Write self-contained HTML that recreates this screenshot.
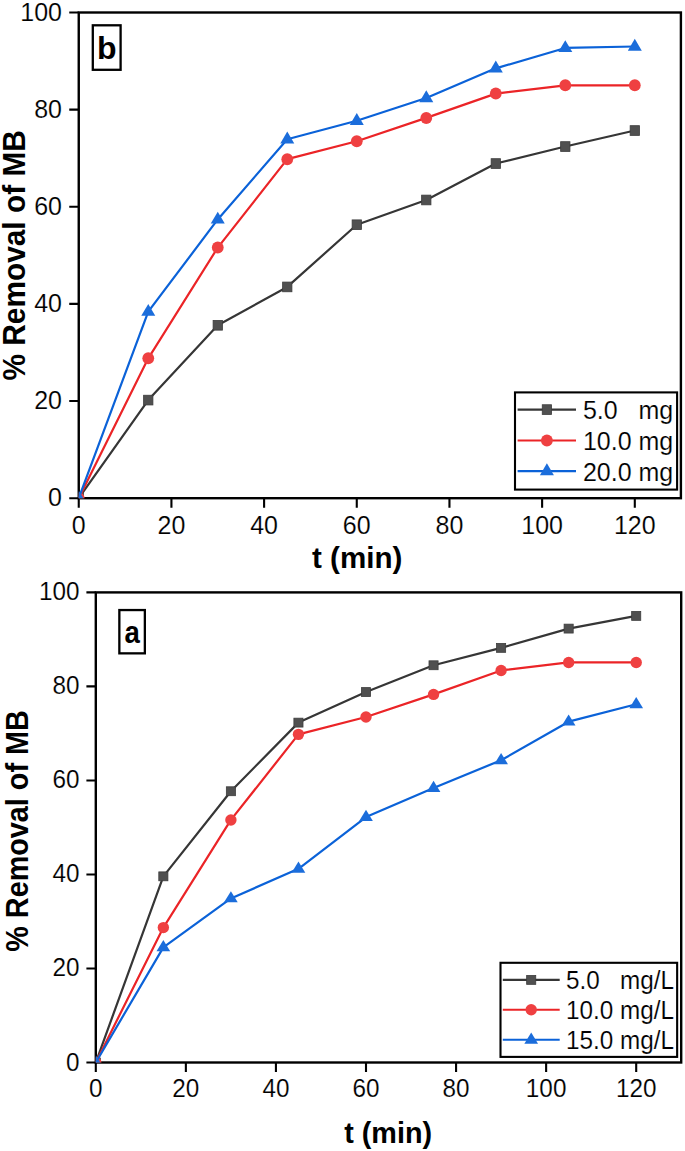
<!DOCTYPE html>
<html><head><meta charset="utf-8"><title>% Removal of MB vs t (min)</title>
<style>
html,body{margin:0;padding:0;background:#fff;}
body{width:685px;height:1151px;overflow:hidden;}
svg{display:block;}
text{font-family:"Liberation Sans",sans-serif;fill:#000;stroke:#fff;stroke-width:0.15px;}
.b{font-weight:bold;stroke:none;}
</style></head><body>
<svg width="685" height="1151" viewBox="0 0 685 1151">
<rect width="685" height="1151" fill="#fff"/>
<!-- chart b -->
<rect x="78.75" y="12.5" width="602.15" height="485.70" fill="none" stroke="#000" stroke-width="2.4"/>
<path d="M69.25 498.20H78.75M69.25 401.06H78.75M69.25 303.92H78.75M69.25 206.78H78.75M69.25 109.64H78.75M69.25 12.50H78.75M78.75 498.2V507.70M171.43 498.2V507.70M264.10 498.2V507.70M356.77 498.2V507.70M449.45 498.2V507.70M542.12 498.2V507.70M634.80 498.2V507.70" stroke="#000" stroke-width="2.1" fill="none"/>
<clipPath id="clipb"><rect x="78.75" y="12.5" width="602.15" height="485.70"/></clipPath>
<g clip-path="url(#clipb)">
<polyline points="78.75,498.20 148.26,400.09 217.76,325.29 287.27,286.92 356.77,224.75 426.28,199.98 495.79,163.55 565.29,146.55 634.80,130.53" fill="none" stroke="#363636" stroke-width="2.2" stroke-linejoin="round"/>
<rect x="74.10" y="493.35" width="9.30" height="9.70" fill="#505050" stroke="#3c3c3c" stroke-width="0.8"/>
<rect x="143.61" y="395.24" width="9.30" height="9.70" fill="#505050" stroke="#3c3c3c" stroke-width="0.8"/>
<rect x="213.11" y="320.44" width="9.30" height="9.70" fill="#505050" stroke="#3c3c3c" stroke-width="0.8"/>
<rect x="282.62" y="282.07" width="9.30" height="9.70" fill="#505050" stroke="#3c3c3c" stroke-width="0.8"/>
<rect x="352.12" y="219.90" width="9.30" height="9.70" fill="#505050" stroke="#3c3c3c" stroke-width="0.8"/>
<rect x="421.63" y="195.13" width="9.30" height="9.70" fill="#505050" stroke="#3c3c3c" stroke-width="0.8"/>
<rect x="491.14" y="158.70" width="9.30" height="9.70" fill="#505050" stroke="#3c3c3c" stroke-width="0.8"/>
<rect x="560.64" y="141.70" width="9.30" height="9.70" fill="#505050" stroke="#3c3c3c" stroke-width="0.8"/>
<rect x="630.15" y="125.68" width="9.30" height="9.70" fill="#505050" stroke="#3c3c3c" stroke-width="0.8"/>
<polyline points="78.75,498.20 148.26,358.32 217.76,247.58 287.27,159.18 356.77,141.21 426.28,117.90 495.79,93.61 565.29,85.35 634.80,85.35" fill="none" stroke="#eb2427" stroke-width="2.2" stroke-linejoin="round"/>
<ellipse cx="78.75" cy="498.20" rx="5.9" ry="6.0" fill="#ef4041"/>
<ellipse cx="148.26" cy="358.32" rx="5.9" ry="6.0" fill="#ef4041"/>
<ellipse cx="217.76" cy="247.58" rx="5.9" ry="6.0" fill="#ef4041"/>
<ellipse cx="287.27" cy="159.18" rx="5.9" ry="6.0" fill="#ef4041"/>
<ellipse cx="356.77" cy="141.21" rx="5.9" ry="6.0" fill="#ef4041"/>
<ellipse cx="426.28" cy="117.90" rx="5.9" ry="6.0" fill="#ef4041"/>
<ellipse cx="495.79" cy="93.61" rx="5.9" ry="6.0" fill="#ef4041"/>
<ellipse cx="565.29" cy="85.35" rx="5.9" ry="6.0" fill="#ef4041"/>
<ellipse cx="634.80" cy="85.35" rx="5.9" ry="6.0" fill="#ef4041"/>
<polyline points="78.75,498.20 148.26,311.69 217.76,219.41 287.27,139.27 356.77,120.81 426.28,97.98 495.79,68.36 565.29,47.96 634.80,46.50" fill="none" stroke="#0b62d8" stroke-width="2.2" stroke-linejoin="round"/>
<path d="M78.75 490.46L85.75 502.37L71.75 502.37Z" fill="#1b6ddb"/>
<path d="M148.26 303.96L155.26 315.86L141.26 315.86Z" fill="#1b6ddb"/>
<path d="M217.76 211.67L224.76 223.57L210.76 223.57Z" fill="#1b6ddb"/>
<path d="M287.27 131.53L294.27 143.43L280.27 143.43Z" fill="#1b6ddb"/>
<path d="M356.77 113.08L363.77 124.98L349.77 124.98Z" fill="#1b6ddb"/>
<path d="M426.28 90.25L433.28 102.15L419.28 102.15Z" fill="#1b6ddb"/>
<path d="M495.79 60.62L502.79 72.52L488.79 72.52Z" fill="#1b6ddb"/>
<path d="M565.29 40.22L572.29 52.12L558.29 52.12Z" fill="#1b6ddb"/>
<path d="M634.80 38.76L641.80 50.66L627.80 50.66Z" fill="#1b6ddb"/>
</g>
<text transform="translate(62.00,506.30) scale(1,1.06)" font-size="25" text-anchor="end" xml:space="preserve">0</text>
<text transform="translate(62.00,409.16) scale(1,1.06)" font-size="25" text-anchor="end" xml:space="preserve">20</text>
<text transform="translate(62.00,312.02) scale(1,1.06)" font-size="25" text-anchor="end" xml:space="preserve">40</text>
<text transform="translate(62.00,214.88) scale(1,1.06)" font-size="25" text-anchor="end" xml:space="preserve">60</text>
<text transform="translate(62.00,117.74) scale(1,1.06)" font-size="25" text-anchor="end" xml:space="preserve">80</text>
<text transform="translate(62.00,20.60) scale(1,1.06)" font-size="25" text-anchor="end" xml:space="preserve">100</text>
<text transform="translate(78.75,534.00) scale(1,1.06)" font-size="25" text-anchor="middle" xml:space="preserve">0</text>
<text transform="translate(171.43,534.00) scale(1,1.06)" font-size="25" text-anchor="middle" xml:space="preserve">20</text>
<text transform="translate(264.10,534.00) scale(1,1.06)" font-size="25" text-anchor="middle" xml:space="preserve">40</text>
<text transform="translate(356.77,534.00) scale(1,1.06)" font-size="25" text-anchor="middle" xml:space="preserve">60</text>
<text transform="translate(449.45,534.00) scale(1,1.06)" font-size="25" text-anchor="middle" xml:space="preserve">80</text>
<text transform="translate(542.12,534.00) scale(1,1.06)" font-size="25" text-anchor="middle" xml:space="preserve">100</text>
<text transform="translate(634.80,534.00) scale(1,1.06)" font-size="25" text-anchor="middle" xml:space="preserve">120</text>
<text class="b" transform="translate(357.15,568.40) scale(1,1.015)" font-size="29.6" text-anchor="middle" xml:space="preserve">t (min)</text>
<text class="b" transform="translate(24.60,255.40) rotate(-90) scale(1,1.03)" font-size="29.85" text-anchor="middle" xml:space="preserve">% Removal of MB</text>
<rect x="92.8" y="25.3" width="27.80" height="44.50" fill="#fff" stroke="#000" stroke-width="2.3"/>
<text class="b" transform="translate(106.70,59.00)" font-size="32" text-anchor="middle" xml:space="preserve">b</text>
<rect x="515" y="392.4" width="162.10" height="97.20" fill="#fff" stroke="#000" stroke-width="2.1"/>
<line x1="517.6" y1="409.6" x2="576" y2="409.6" stroke="#363636" stroke-width="2.1"/>
<rect x="542.25" y="404.75" width="9.30" height="9.70" fill="#505050" stroke="#3c3c3c" stroke-width="0.8"/>
<text transform="translate(582.90,419.09) scale(1,1.06)" font-size="25" xml:space="preserve">5.0   mg</text>
<line x1="517.6" y1="440.5" x2="576" y2="440.5" stroke="#eb2427" stroke-width="2.1"/>
<ellipse cx="546.90" cy="440.50" rx="5.9" ry="6.0" fill="#ef4041"/>
<text transform="translate(582.90,449.99) scale(1,1.06)" font-size="25" xml:space="preserve">10.0 mg</text>
<line x1="517.6" y1="471.1" x2="576" y2="471.1" stroke="#0b62d8" stroke-width="2.1"/>
<path d="M546.90 463.37L553.90 475.27L539.90 475.27Z" fill="#1b6ddb"/>
<text transform="translate(582.90,480.59) scale(1,1.06)" font-size="25" xml:space="preserve">20.0 mg</text>
<!-- chart a -->
<rect x="95.8" y="592.4" width="585.40" height="470.10" fill="none" stroke="#000" stroke-width="2.4"/>
<path d="M86.40 1062.50H95.8M86.40 968.48H95.8M86.40 874.46H95.8M86.40 780.44H95.8M86.40 686.42H95.8M86.40 592.40H95.8M95.80 1062.5V1071.90M185.87 1062.5V1071.90M275.93 1062.5V1071.90M366.00 1062.5V1071.90M456.07 1062.5V1071.90M546.13 1062.5V1071.90M636.20 1062.5V1071.90" stroke="#000" stroke-width="2.1" fill="none"/>
<clipPath id="clipa"><rect x="95.8" y="592.4" width="585.40" height="470.10"/></clipPath>
<g clip-path="url(#clipa)">
<polyline points="95.80,1062.50 163.35,876.34 230.90,791.25 298.45,722.62 366.00,692.06 433.55,665.27 501.10,647.87 568.65,628.60 636.20,615.90" fill="none" stroke="#363636" stroke-width="2.2" stroke-linejoin="round"/>
<rect x="91.25" y="1058.05" width="9.10" height="8.90" fill="#505050" stroke="#3c3c3c" stroke-width="0.8"/>
<rect x="158.80" y="871.89" width="9.10" height="8.90" fill="#505050" stroke="#3c3c3c" stroke-width="0.8"/>
<rect x="226.35" y="786.80" width="9.10" height="8.90" fill="#505050" stroke="#3c3c3c" stroke-width="0.8"/>
<rect x="293.90" y="718.17" width="9.10" height="8.90" fill="#505050" stroke="#3c3c3c" stroke-width="0.8"/>
<rect x="361.45" y="687.61" width="9.10" height="8.90" fill="#505050" stroke="#3c3c3c" stroke-width="0.8"/>
<rect x="429.00" y="660.82" width="9.10" height="8.90" fill="#505050" stroke="#3c3c3c" stroke-width="0.8"/>
<rect x="496.55" y="643.42" width="9.10" height="8.90" fill="#505050" stroke="#3c3c3c" stroke-width="0.8"/>
<rect x="564.10" y="624.15" width="9.10" height="8.90" fill="#505050" stroke="#3c3c3c" stroke-width="0.8"/>
<rect x="631.65" y="611.45" width="9.10" height="8.90" fill="#505050" stroke="#3c3c3c" stroke-width="0.8"/>
<polyline points="95.80,1062.50 163.35,927.58 230.90,819.93 298.45,734.37 366.00,716.98 433.55,694.41 501.10,670.44 568.65,662.44 636.20,662.44" fill="none" stroke="#eb2427" stroke-width="2.2" stroke-linejoin="round"/>
<ellipse cx="95.80" cy="1062.50" rx="5.7" ry="5.7" fill="#ef4041"/>
<ellipse cx="163.35" cy="927.58" rx="5.7" ry="5.7" fill="#ef4041"/>
<ellipse cx="230.90" cy="819.93" rx="5.7" ry="5.7" fill="#ef4041"/>
<ellipse cx="298.45" cy="734.37" rx="5.7" ry="5.7" fill="#ef4041"/>
<ellipse cx="366.00" cy="716.98" rx="5.7" ry="5.7" fill="#ef4041"/>
<ellipse cx="433.55" cy="694.41" rx="5.7" ry="5.7" fill="#ef4041"/>
<ellipse cx="501.10" cy="670.44" rx="5.7" ry="5.7" fill="#ef4041"/>
<ellipse cx="568.65" cy="662.44" rx="5.7" ry="5.7" fill="#ef4041"/>
<ellipse cx="636.20" cy="662.44" rx="5.7" ry="5.7" fill="#ef4041"/>
<polyline points="95.80,1062.50 163.35,947.33 230.90,898.44 298.45,868.82 366.00,817.11 433.55,787.96 501.10,760.23 568.65,721.68 636.20,704.28" fill="none" stroke="#0b62d8" stroke-width="2.2" stroke-linejoin="round"/>
<path d="M95.80 1055.22L102.65 1066.42L88.95 1066.42Z" fill="#1b6ddb"/>
<path d="M163.35 940.05L170.20 951.25L156.50 951.25Z" fill="#1b6ddb"/>
<path d="M230.90 891.16L237.75 902.36L224.05 902.36Z" fill="#1b6ddb"/>
<path d="M298.45 861.54L305.30 872.74L291.60 872.74Z" fill="#1b6ddb"/>
<path d="M366.00 809.83L372.85 821.03L359.15 821.03Z" fill="#1b6ddb"/>
<path d="M433.55 780.68L440.40 791.88L426.70 791.88Z" fill="#1b6ddb"/>
<path d="M501.10 752.95L507.95 764.15L494.25 764.15Z" fill="#1b6ddb"/>
<path d="M568.65 714.40L575.50 725.60L561.80 725.60Z" fill="#1b6ddb"/>
<path d="M636.20 697.00L643.05 708.20L629.35 708.20Z" fill="#1b6ddb"/>
</g>
<text transform="translate(79.60,1070.50) scale(1,1.05)" font-size="24.3" text-anchor="end" xml:space="preserve">0</text>
<text transform="translate(79.60,976.48) scale(1,1.05)" font-size="24.3" text-anchor="end" xml:space="preserve">20</text>
<text transform="translate(79.60,882.46) scale(1,1.05)" font-size="24.3" text-anchor="end" xml:space="preserve">40</text>
<text transform="translate(79.60,788.44) scale(1,1.05)" font-size="24.3" text-anchor="end" xml:space="preserve">60</text>
<text transform="translate(79.60,694.42) scale(1,1.05)" font-size="24.3" text-anchor="end" xml:space="preserve">80</text>
<text transform="translate(79.60,600.40) scale(1,1.05)" font-size="24.3" text-anchor="end" xml:space="preserve">100</text>
<text transform="translate(95.80,1097.30) scale(1,1.05)" font-size="24.3" text-anchor="middle" xml:space="preserve">0</text>
<text transform="translate(185.87,1097.30) scale(1,1.05)" font-size="24.3" text-anchor="middle" xml:space="preserve">20</text>
<text transform="translate(275.93,1097.30) scale(1,1.05)" font-size="24.3" text-anchor="middle" xml:space="preserve">40</text>
<text transform="translate(366.00,1097.30) scale(1,1.05)" font-size="24.3" text-anchor="middle" xml:space="preserve">60</text>
<text transform="translate(456.07,1097.30) scale(1,1.05)" font-size="24.3" text-anchor="middle" xml:space="preserve">80</text>
<text transform="translate(546.13,1097.30) scale(1,1.05)" font-size="24.3" text-anchor="middle" xml:space="preserve">100</text>
<text transform="translate(636.20,1097.30) scale(1,1.05)" font-size="24.3" text-anchor="middle" xml:space="preserve">120</text>
<text class="b" transform="translate(388.15,1142.60) scale(1,1.03)" font-size="28.77" text-anchor="middle" xml:space="preserve">t (min)</text>
<text class="b" transform="translate(28.00,831.00) rotate(-90) scale(1,1.06)" font-size="28.8" text-anchor="middle" xml:space="preserve">% Removal of MB</text>
<rect x="119.35" y="610.05" width="25.50" height="43.30" fill="#fff" stroke="#000" stroke-width="2.3"/>
<text class="b" transform="translate(132.10,643.20) scale(0.92,1.06)" font-size="30" text-anchor="middle" xml:space="preserve">a</text>
<rect x="500.5" y="962.8" width="176.65" height="94.10" fill="#fff" stroke="#000" stroke-width="2.1"/>
<line x1="502.8" y1="979.9" x2="559.7" y2="979.9" stroke="#363636" stroke-width="2.1"/>
<rect x="526.65" y="975.45" width="9.10" height="8.90" fill="#505050" stroke="#3c3c3c" stroke-width="0.8"/>
<text transform="translate(565.90,988.90) scale(1,1.035)" font-size="24.3" xml:space="preserve">5.0   mg/L</text>
<line x1="502.8" y1="1009.8" x2="559.7" y2="1009.8" stroke="#eb2427" stroke-width="2.1"/>
<ellipse cx="531.20" cy="1009.80" rx="5.7" ry="5.7" fill="#ef4041"/>
<text transform="translate(565.90,1018.80) scale(1,1.035)" font-size="24.3" xml:space="preserve">10.0 mg/L</text>
<line x1="502.8" y1="1039.8" x2="559.7" y2="1039.8" stroke="#0b62d8" stroke-width="2.1"/>
<path d="M531.20 1032.52L538.05 1043.72L524.35 1043.72Z" fill="#1b6ddb"/>
<text transform="translate(565.90,1048.80) scale(1,1.035)" font-size="24.3" xml:space="preserve">15.0 mg/L</text>
</svg>
</body></html>
